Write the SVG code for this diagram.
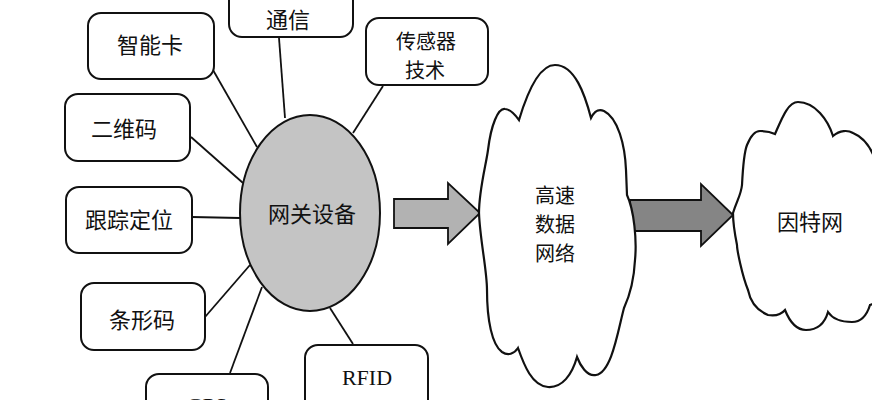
<svg xmlns="http://www.w3.org/2000/svg" width="872" height="400" viewBox="0 0 872 400">
<style>
.box{fill:#fff;stroke:#111;stroke-width:2}
.t{font-family:"Noto Sans CJK SC","Noto Sans",sans-serif;font-size:22px;fill:#111;text-anchor:middle;dominant-baseline:central}
.m{font-size:20px}
.ln{stroke:#111;stroke-width:1.8;fill:none}
.cloud{fill:#fff;stroke:#111;stroke-width:2.2}
</style>
<rect width="872" height="400" fill="#fff"/>
<g id="connectors">
<line class="ln" x1="213" y1="70" x2="257" y2="147"/>
<line class="ln" x1="191" y1="137" x2="243" y2="183"/>
<line class="ln" x1="192" y1="217" x2="240" y2="218"/>
<line class="ln" x1="205" y1="317" x2="250" y2="265"/>
<line class="ln" x1="230" y1="373" x2="262" y2="287"/>
<line class="ln" x1="330" y1="308" x2="353" y2="344"/>
<line class="ln" x1="279" y1="38" x2="285" y2="118"/>
<line class="ln" x1="383" y1="86" x2="353" y2="133"/>
<polygon id="arrow1" points="394,199 448,199 448,183 480,213 448,244 448,228 394,228" fill="#b2b2b2" stroke="#111" stroke-width="1.8"/>
<polygon id="arrow2" points="630,200 701,200 701,184 733,215 701,246 701,231 632,231" fill="#858585" stroke="#111" stroke-width="1.8"/>
</g>
<g id="gateway">
<ellipse cx="310" cy="213" rx="70" ry="98" fill="#c4c4c4" stroke="#111" stroke-width="2"/>
<text class="t" x="312" y="212">网关设备</text>
</g>
<g id="smartcard">
<rect class="box" x="88" y="13" width="126" height="66" rx="13"/>
<text class="t" x="150" y="43">智能卡</text>
</g>
<g id="qrcode">
<rect class="box" x="65" y="94" width="125" height="67" rx="13"/>
<text class="t" x="124" y="127">二维码</text>
</g>
<g id="tracking">
<rect class="box" x="66" y="187" width="126" height="66" rx="13"/>
<text class="t" x="129" y="218">跟踪定位</text>
</g>
<g id="barcode">
<rect class="box" x="81" y="283" width="124" height="67" rx="13"/>
<text class="t" x="142" y="318">条形码</text>
</g>
<g id="gps">
<rect class="box" x="146" y="374" width="122" height="60" rx="13"/>
<text x="207" y="413" font-family="Liberation Serif,serif" font-size="22" fill="#111" text-anchor="middle">GPS</text>
</g>
<g id="rfid">
<rect class="box" x="305" y="345" width="123" height="70" rx="13"/>
<text x="367" y="385" font-family="Liberation Serif,serif" font-size="22" fill="#111" text-anchor="middle">RFID</text>
</g>
<g id="comm">
<rect class="box" x="229" y="-30" width="124" height="67" rx="13"/>
<text class="t" x="288" y="18">通信</text>
</g>
<g id="sensor">
<rect class="box" x="366" y="18" width="122" height="67" rx="13"/>
<text class="t m"><tspan x="426" y="40">传感器</tspan><tspan x="425" y="69">技术</tspan></text>
</g>
<g id="network">
<path class="cloud" d="M555,65 C575,65 585,95 591,118 C595,110 599,109 604,111 C618,118 625,145 626,170 L627,195 C634,210 637,240 635,260 C634,280 630,295 624,308 C618,330 612,372 596,375 C587,377 580,365 577,357 C572,375 562,388 548,387 C532,386 524,365 518,348 C514,354 508,356 502,352 C492,345 487,320 487,290 C487,270 480,240 479,213 C479,190 486,165 488,150 C491,125 498,108 505,109 C511,109 516,116 519,120 C528,90 540,65 555,65 Z"/>
<text class="t m"><tspan x="555" y="194">高速</tspan><tspan x="555" y="223">数据</tspan><tspan x="555" y="252">网络</tspan></text>
</g>
<g id="internet">
<path class="cloud" d="M798,102 C815,102 828,120 833,136 C840,130 848,130 853,133 C870,140 880,160 882,200 L882,290 C878,300 874,304 870,305 C866,318 860,322 852,322 C840,322 832,318 828,312 C824,326 816,330 806,330 C796,330 789,320 785,310 C780,316 774,316 768,315 C756,310 750,300 748,290 C742,275 737,250 737,245 C735,235 733,222 733,213 C737,200 741,195 742,185 C743,165 745,150 747,145 C751,135 755,131 760,131 C766,131 771,132 775,134 C782,118 788,102 798,102 Z"/>
<text class="t" x="810" y="220">因特网</text>
</g>
</svg>
